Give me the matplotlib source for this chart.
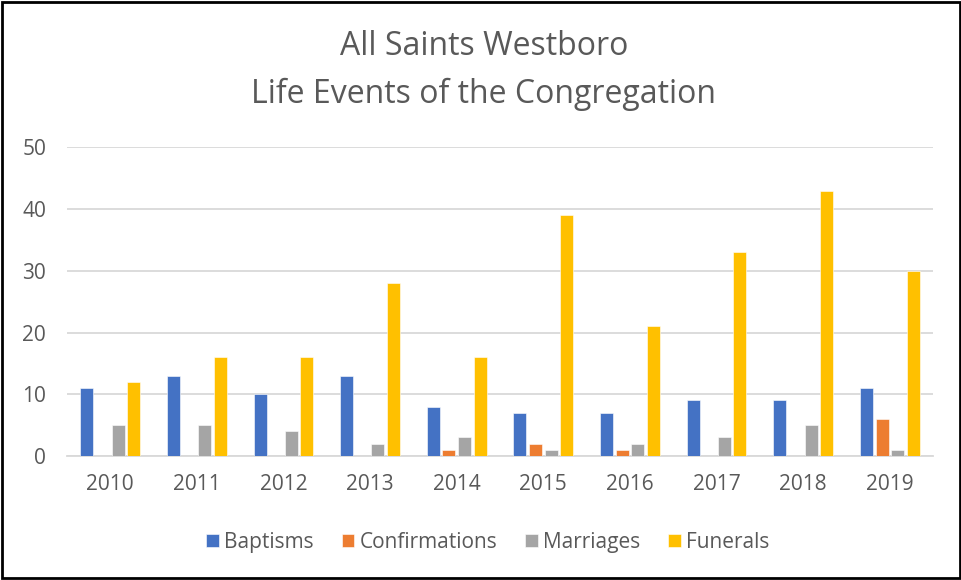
import matplotlib.pyplot as plt
import numpy as np
from matplotlib.patches import Rectangle

plt.rcParams['font.family'] = ['Open Sans', 'DejaVu Sans']

# chart data
years = ['2010', '2011', '2012', '2013', '2014', '2015', '2016', '2017', '2018', '2019']
baptisms = [11, 13, 10, 13, 8, 7, 7, 9, 9, 11]
confirmations = [0, 0, 0, 0, 1, 2, 1, 0, 0, 6]
marriages = [5, 5, 4, 2, 3, 1, 2, 3, 5, 1]
funerals = [12, 16, 16, 28, 16, 39, 21, 33, 43, 30]

series = [('Baptisms', baptisms, '#4472C4'),
          ('Confirmations', confirmations, '#ED7D31'),
          ('Marriages', marriages, '#A5A5A5'),
          ('Funerals', funerals, '#FFC000')]

txt = '#595959'

fig = plt.figure(figsize=(9.62, 5.8), dpi=100)
ax = fig.add_axes([0.0696, 0.2138, 0.9004, 0.5319])

x = np.arange(len(years))
step = 0.18
width = 0.15
for i, (name, vals, col) in enumerate(series):
    ax.bar(x + (i - 1.5) * step, vals, width, color=col, label=name,
           edgecolor='white', linewidth=0.4, zorder=3)

ax.set_xlim(-0.5, len(years) - 0.5)
ax.set_ylim(0, 50)
ax.set_yticks(range(0, 51, 10))
ax.set_xticks(x)
ax.set_xticklabels(years)
ax.yaxis.grid(True, color='#D9D9D9', linewidth=1.3, zorder=0)
ax.tick_params(axis='both', length=0, labelsize=15, colors=txt)
ax.tick_params(axis='y', pad=15)
ax.tick_params(axis='x', pad=13)
for s in ['top', 'right', 'left']:
    ax.spines[s].set_visible(False)
ax.spines['bottom'].set_color('#D9D9D9')
ax.spines['bottom'].set_linewidth(1.3)

fig.text(0.503, 0.919, 'All Saints Westboro', ha='center', va='center',
         fontsize=23, color=txt)
fig.text(0.503, 0.838, 'Life Events of the Congregation', ha='center', va='center',
         fontsize=23, color=txt)

leg = fig.legend(loc='center', bbox_to_anchor=(0.507, 0.065), ncol=4, frameon=False,
                 fontsize=15, handlelength=0.6, handleheight=0.6,
                 handletextpad=0.25, columnspacing=1.35)
for t in leg.get_texts():
    t.set_color(txt)

fig.patches.append(Rectangle((0.002, 0.003), 0.996, 0.994, transform=fig.transFigure,
                             fill=False, edgecolor='black', linewidth=2))

fig.savefig('out.png', dpi=100)
